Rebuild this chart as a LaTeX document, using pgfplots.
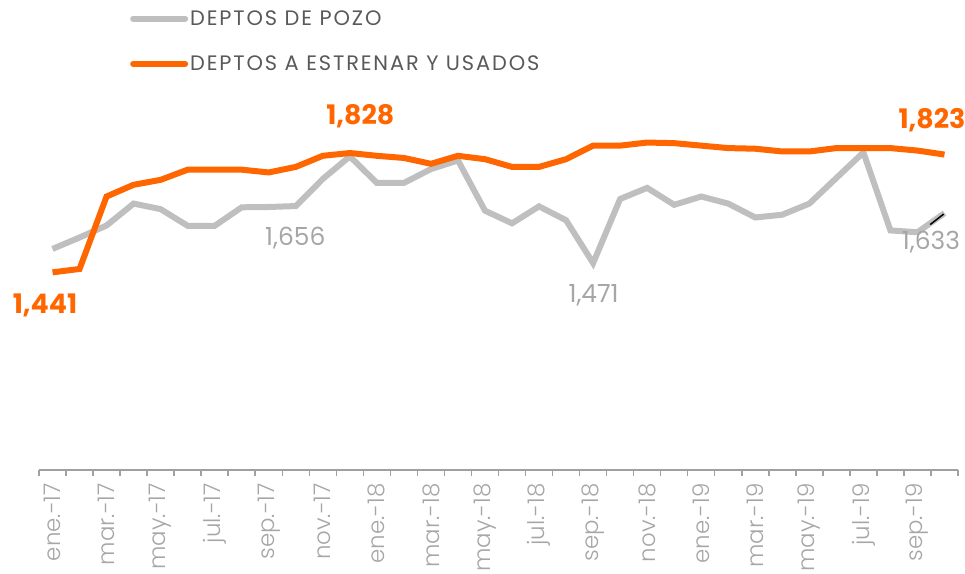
\documentclass[border=0pt]{standalone}
\usepackage{pgfplots}
\usepackage{pgfplotstable}
\pgfplotsset{compat=1.18}
\usepackage{fontspec}
\setmainfont{Poppins}
\newfontfamily\lightfont{Poppins Light}

\definecolor{naranja}{HTML}{FF6600}
\definecolor{grisline}{HTML}{BFBFBF}
\definecolor{grislabel}{HTML}{A6A6A6}
\definecolor{grisaxis}{HTML}{A0A0A0}
\definecolor{legtext}{HTML}{595959}

% x = mes (0 = ene-17)
\pgfplotstableread{
x pozo estrenar
0  1517 1441
1  1554 1452
2  1593 1687
3  1664 1725
4  1646 1741
5  1592 1774
6  1592 1774
7  1652 1774
8  1653 1765
9  1656 1783
10 1744 1819
11 1817 1828
12 1731 1819
13 1731 1812
14 1776 1793
15 1804 1819
16 1641 1808
17 1600 1783
18 1655 1783
19 1610 1808
20 1471 1852
21 1679 1852
22 1715 1862
23 1660 1860
24 1687 1852
25 1664 1844
26 1619 1842
27 1628 1833
28 1664 1833
29 1747 1844
30 1830 1844
31 1577 1844
32 1571 1836
33 1633 1823
}\datos

\begin{document}
\begin{tikzpicture}
\begin{axis}[
  at={(39bp,104bp)}, anchor=south west,
  scale only axis, width=919bp, height=370bp,
  xmin=-0.5, xmax=33.5, ymin=800, ymax=2000,
  axis x line=bottom, axis y line=none,
  axis line style={-, draw=grisaxis, line width=1.5bp},
  xtick={0,2,...,32},
  xticklabels={ene.-17,mar.-17,may.-17,jul.-17,sep.-17,nov.-17,ene.-18,mar.-18,may.-18,jul.-18,sep.-18,nov.-18,ene.-19,mar.-19,may.-19,jul.-19,sep.-19},
  major tick length=0pt,
  minor xtick={-0.5,0.5,...,33.5},
  minor tick length=6bp,
  tick align=outside,
  minor tick style={draw=grisaxis, line width=1.5bp},
  xticklabel shift=13bp,
  x tick label style={rotate=90, anchor=east, inner sep=0pt,
    font=\lightfont\fontsize{23}{23}\selectfont, text=grislabel},
  clip=false,
  legend style={at={(0.099,1.248)}, anchor=north west, draw=none, fill=none,
    font=\addfontfeatures{LetterSpace=9}\fontsize{21}{21}\selectfont, text=legtext, row sep=25bp,
    inner sep=0pt},
  legend cell align=left,
  legend image code/.code={\draw[#1, line cap=round] (0bp,0bp) -- (52bp,0bp);},
]
\addplot[grisline, line width=6bp] table[x=x, y=pozo] {\datos};
\addlegendentry{DEPTOS DE POZO}
\addplot[naranja, line width=6bp] table[x=x, y=estrenar] {\datos};
\addlegendentry{DEPTOS A ESTRENAR Y USADOS}
\addplot[black, line width=1.5bp, forget plot] coordinates {(32.47,1596) (32.97,1630)};

\node[font=\bfseries\fontsize{27}{27}\selectfont, text=naranja] at (axis cs:-0.28,1333) {1,441};
\node[font=\bfseries\fontsize{27}{27}\selectfont, text=naranja] at (axis cs:11.39,1949) {1,828};
\node[font=\bfseries\fontsize{27}{27}\selectfont, text=naranja] at (axis cs:32.54,1933) {1,823};
\node[font=\fontsize{25}{25}\selectfont, text=grislabel] at (axis cs:8.98,1553) {1,656};
\node[font=\fontsize{25}{25}\selectfont, text=grislabel] at (axis cs:20.02,1367) {1,471};
\node[font=\fontsize{25}{25}\selectfont, text=grislabel] at (axis cs:32.5,1539) {1,633};
\end{axis}
\pgfresetboundingbox
\path[use as bounding box] (0,0) rectangle (965bp,574bp);
\end{tikzpicture}
\end{document}
